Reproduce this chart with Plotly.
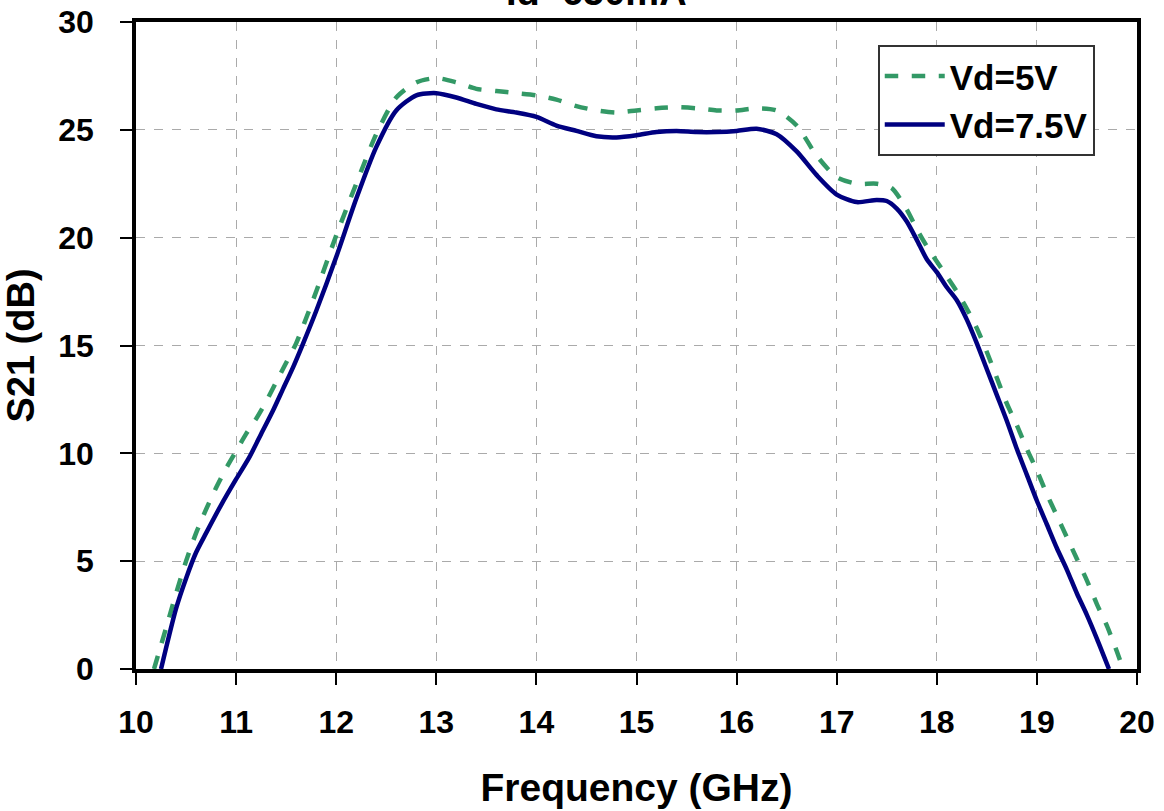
import plotly.graph_objects as go

freq_5v = [10.18, 10.3, 10.4, 10.5, 10.6, 10.7, 10.8, 10.9, 11.0, 11.1, 11.2, 11.3, 11.4, 11.5, 11.6,
           11.8, 12.0, 12.2, 12.4, 12.6, 12.8,
           13.0, 13.2, 13.4, 13.6, 13.8, 14.0, 14.2, 14.4, 14.6, 14.8, 15.0, 15.2, 15.4, 15.6, 15.8, 16.0,
           16.2, 16.4, 16.6, 16.8, 17.0, 17.2, 17.4, 17.55, 17.7, 17.8, 17.9, 18.0, 18.1, 18.2, 18.3, 18.4,
           18.5, 18.6, 18.7, 18.8, 18.9, 19.0, 19.1, 19.2, 19.3, 19.4, 19.5, 19.6, 19.7, 19.8, 19.86]
s21_5v = [0.0, 1.9, 3.5, 5.0, 6.3, 7.4, 8.4, 9.3, 10.1, 10.9, 11.6, 12.4, 13.3, 14.2, 15.1,
          17.5, 20.1, 22.5, 24.8, 26.5, 27.2,
          27.4, 27.2, 26.9, 26.8, 26.7, 26.6, 26.4, 26.1, 25.9, 25.8, 25.9, 26.0, 26.05, 26.0, 25.9, 25.9,
          26.0, 25.9, 25.2, 23.8, 22.8, 22.5, 22.5, 22.3, 21.3, 20.4, 19.6, 18.9, 18.2, 17.5, 16.7, 15.8,
          14.7, 13.5, 12.3, 11.3, 10.2, 9.2, 8.1, 7.1, 6.1, 5.1, 4.1, 3.0, 2.0, 0.8, 0.0]

freq_75v = [10.25, 10.4, 10.5, 10.6, 10.7, 10.85, 11.0, 11.13, 11.25, 11.37, 11.47, 11.57, 11.67,
            11.8, 12.0, 12.2, 12.4, 12.6, 12.8,
            13.0, 13.2, 13.4, 13.6, 13.8, 14.0, 14.2, 14.4, 14.6, 14.8, 15.0, 15.2, 15.4, 15.6, 15.8, 16.0,
            16.2, 16.4, 16.6, 16.8, 17.0, 17.2, 17.4, 17.5, 17.6, 17.7, 17.8, 17.9, 18.0, 18.1, 18.2, 18.3,
            18.4, 18.5, 18.6, 18.7, 18.8, 18.9, 19.0, 19.1, 19.2, 19.3, 19.4, 19.5, 19.6, 19.72]
s21_75v = [0.0, 2.8, 4.2, 5.4, 6.3, 7.6, 8.8, 9.8, 10.9, 12.0, 13.0, 14.0, 15.1,
           16.6, 19.1, 21.8, 24.2, 25.9, 26.6,
           26.7, 26.5, 26.2, 25.95, 25.8, 25.6, 25.2, 24.95, 24.7, 24.65, 24.75, 24.9, 24.95, 24.9, 24.9, 24.95,
           25.05, 24.8, 24.0, 22.9, 22.0, 21.65, 21.75, 21.7, 21.35, 20.75, 19.9, 19.0, 18.4, 17.7, 17.1, 16.2,
           15.1, 13.9, 12.7, 11.5, 10.2, 9.0, 7.8, 6.7, 5.6, 4.6, 3.5, 2.5, 1.4, 0.0]

title_text = "Id=650mA"
font_family = "Liberation Sans, Arial, sans-serif"

fig = go.Figure()
fig.add_trace(go.Scatter(x=freq_5v, y=s21_5v, mode="lines", name="Vd=5V",
                         line=dict(color="#339966", width=4.5, dash="dash", shape="spline", smoothing=0.7)))
fig.add_trace(go.Scatter(x=freq_75v, y=s21_75v, mode="lines", name="Vd=7.5V",
                         line=dict(color="#000080", width=4.5, shape="spline", smoothing=0.7)))

axis_common = dict(showline=True, linecolor="black", linewidth=3.5, mirror=True,
                   showgrid=True, gridcolor="#aaaaaa", gridwidth=1, griddash="dash",
                   ticks="outside", ticklen=12, tickwidth=1.5, tickcolor="black",
                   zeroline=False, automargin=False,
                   tickfont=dict(family=font_family, size=32, color="black", weight="bold"))

fig.update_layout(
    width=1164, height=811,
    margin=dict(l=136, r=27, t=22, b=142),
    paper_bgcolor="white", plot_bgcolor="white",
    font=dict(family=font_family, color="black"),
    showlegend=True,
    legend=dict(x=0.741, y=0.965, xanchor="left", yanchor="top",
                bgcolor="white", bordercolor="#333333", borderwidth=2,
                font=dict(family=font_family, size=35, color="black", weight="bold"),
                itemwidth=60, tracegroupgap=0),
    xaxis=dict(range=[10, 20], dtick=1, tick0=10, ticklabelstandoff=10,
               title=dict(text="Frequency (GHz)", standoff=36,
                          font=dict(family=font_family, size=39, color="black", weight="bold")),
               **axis_common),
    yaxis=dict(range=[0, 30], dtick=5, tick0=0, ticklabelstandoff=20,
               title=dict(text="S21 (dB)", standoff=16,
                          font=dict(family=font_family, size=38, color="black", weight="bold")),
               **axis_common),
    annotations=[dict(text=title_text, x=0.46, y=1.0, xref="paper", yref="paper",
                      yshift=30, showarrow=False, xanchor="center", yanchor="middle",
                      font=dict(family=font_family, size=38, color="black", weight="bold"))],
)

fig.write_html("out.html")
